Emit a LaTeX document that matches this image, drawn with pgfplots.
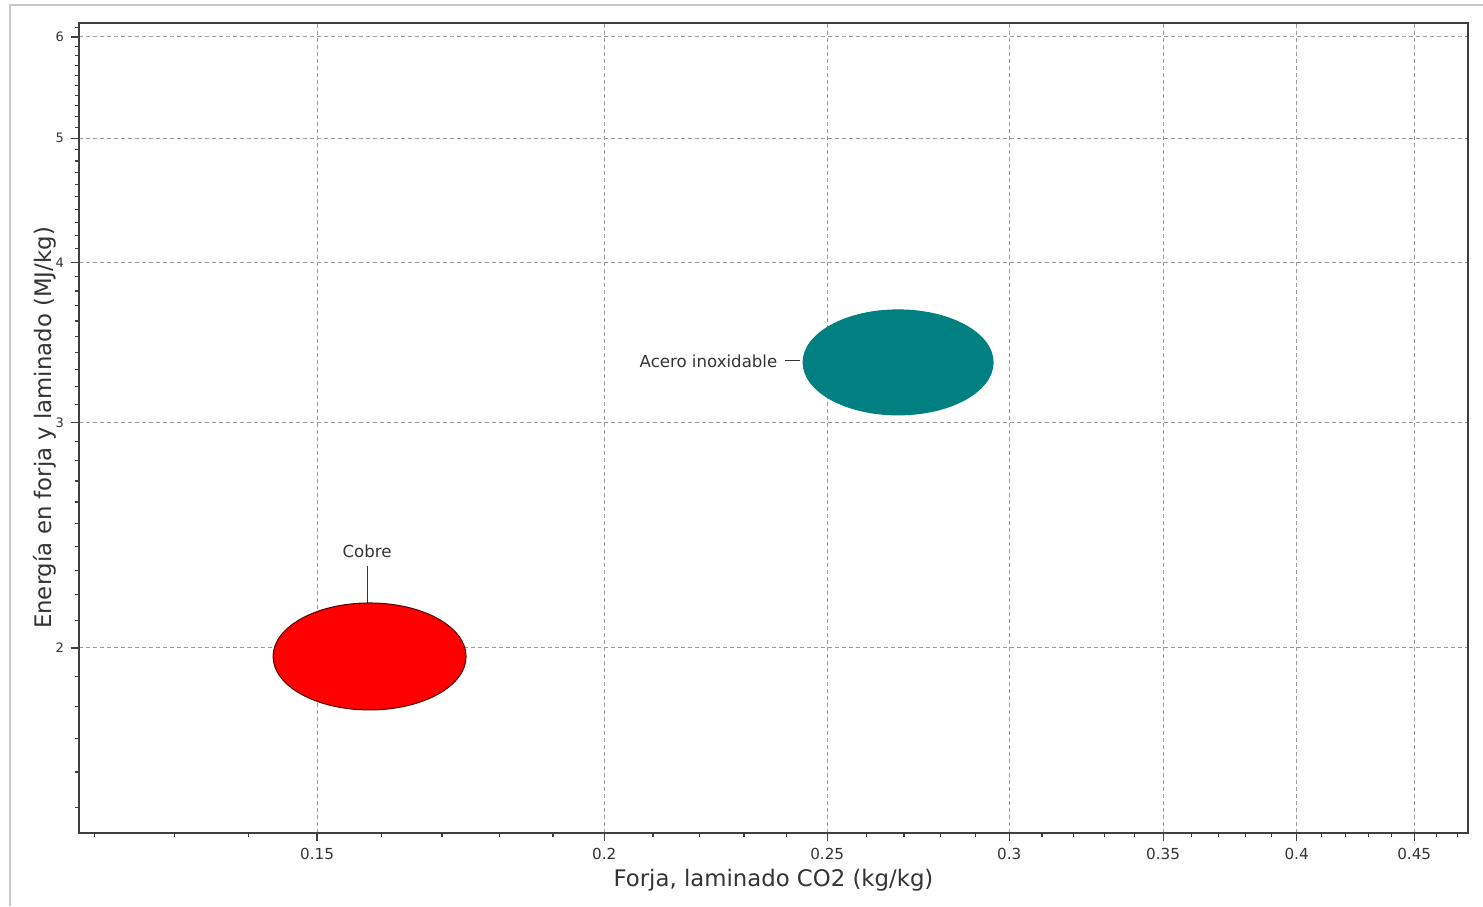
\documentclass[border=0pt]{standalone}
\usepackage{fontspec}
\setmainfont{DejaVu Sans}
\usepackage{pgfplots}
\pgfplotsset{compat=1.18}
\definecolor{axgray}{HTML}{404040}
\definecolor{gridgray}{HTML}{9A9A9A}
\definecolor{txt}{HTML}{333333}
\definecolor{cobre}{HTML}{FF0000}
\definecolor{acero}{HTML}{008080}
\definecolor{frame}{HTML}{C8C8C8}
\begin{document}
\begin{tikzpicture}[x=1pt,y=1pt]
\useasboundingbox (-39.5,-36.5) rectangle (702,416.5);
\draw[frame, line width=0.75pt] (-34.5,-36.5) -- (-34.5,414) -- (702,414);
\begin{axis}[
 at={(0,0)}, anchor=south west,
 scale only axis, width=694.5pt, height=405pt,
 xmode=log, ymode=log,
 xmin=0.11818, xmax=0.4749, ymin=1.4337, ymax=6.152,
 xtick={0.15,0.2,0.25,0.3,0.35,0.4,0.45},
 xticklabels={0.15,0.2,0.25,0.3,0.35,0.4,0.45},
 minor xtick={0.12,0.13,0.14,0.16,0.17,0.18,0.19,0.21,0.22,0.23,0.24,0.26,0.27,0.28,0.29,0.31,0.32,0.33,0.34,0.36,0.37,0.38,0.39,0.41,0.42,0.43,0.44,0.46,0.47},
 ytick={2,3,4,5,6}, yticklabels={2,3,4,5,6},
 minor ytick={1.5,1.6,1.7,1.8,1.9,2.1,2.2,2.3,2.4,2.5,2.6,2.7,2.8,2.9,3.1,3.2,3.3,3.4,3.5,3.6,3.7,3.8,3.9,4.1,4.2,4.3,4.4,4.5,4.6,4.7,4.8,4.9,5.1,5.2,5.3,5.4,5.5,5.6,5.7,5.8,5.9,6.1},
 tick align=outside, tickpos=left,
 major tick length=4pt, minor tick length=2pt,
 every tick/.style={axgray, line width=0.6pt},
 grid=major,
 major grid style={gridgray, line width=0.5pt, dash pattern=on 2pt off 1.5pt},
 axis line style={axgray, line width=1pt},
 xticklabel style={font=\fontsize{7.6}{9}\selectfont, text=txt},
 yticklabel style={font=\fontsize{6.5}{8}\selectfont, text=txt},
 xlabel={Forja, laminado CO2 (kg/kg)},
 ylabel={Energía en forja y laminado (MJ/kg)},
 xlabel style={font=\fontsize{11.4}{13}\selectfont, text=txt, at={(axis description cs:0.5,-0.058)}, anchor=center},
 ylabel style={font=\fontsize{11.4}{13}\selectfont, text=txt, at={(axis description cs:-0.0245,0.5)}, anchor=center},
 clip=false,
]
\addplot[only marks, mark=*, mark size=26.75pt, mark options={xscale=1.8037, fill=cobre, draw=black!65!red, line width=0.5pt}] coordinates {(0.1581,1.9698)};
\addplot[only marks, mark=*, mark size=26.25pt, mark options={xscale=1.8095, fill=acero, draw=acero, line width=0.5pt}] coordinates {(0.2684,3.342)};
\addplot[txt, line width=0.6pt] coordinates {(0.1578,2.318) (0.1578,2.169)};
\addplot[txt, line width=0.6pt] coordinates {(0.2396,3.351) (0.2432,3.351)};
\node[font=\fontsize{8.3}{10}\selectfont, text=txt] at (axis cs:0.1577,2.381) {Cobre};
\node[font=\fontsize{8.3}{10}\selectfont, text=txt, anchor=east, inner sep=0pt] at (axis cs:0.2379,3.351) {Acero inoxidable};
\end{axis}
\end{tikzpicture}
\end{document}
